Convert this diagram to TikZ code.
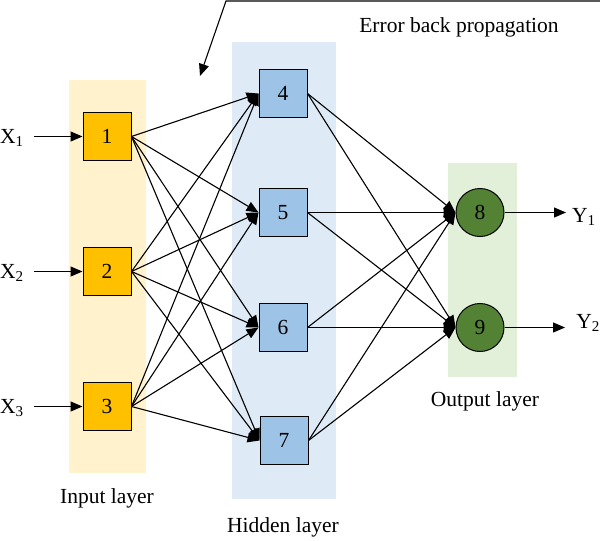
\documentclass[tikz,border=0pt]{standalone}
\usepackage{fontspec}
\setmainfont{Liberation Serif}
\usetikzlibrary{arrows.meta}
\definecolor{inband}{HTML}{FFF2CC}
\definecolor{hidband}{HTML}{DEEBF7}
\definecolor{outband}{HTML}{E2F0D9}
\definecolor{infill}{HTML}{FFC000}
\definecolor{hidfill}{HTML}{9DC3E6}
\definecolor{outfill}{HTML}{548235}
\begin{document}
\begin{tikzpicture}[x=1pt,y=-1pt,font=\fontsize{21.5}{25}\selectfont,
  inbox/.style={shape=rectangle,draw=black,fill=infill,line width=1pt,minimum size=48pt,inner sep=0pt},
  hidbox/.style={shape=rectangle,draw=black,fill=hidfill,line width=1pt,minimum size=48pt,inner sep=0pt},
  outdot/.style={shape=circle,draw=black,fill=outfill,line width=1pt,minimum size=48pt,inner sep=0pt},
  arr/.style={-{Triangle[length=12pt,width=10pt]},line width=1.1pt},
  lbl/.style={inner sep=0pt}]
\useasboundingbox (0,0) rectangle (600,541);

% layer bands
\fill[inband] (69,80) rectangle (146,473);
\fill[hidband] (232,42) rectangle (336,499);
\fill[outband] (448,163) rectangle (517,377);

\node[inbox](in1) at (107,136.5) {1};
\node[inbox](in2) at (107,271.5) {2};
\node[inbox](in3) at (107,406.5) {3};

\node[hidbox](hid4) at (283,93.5) {4};
\node[hidbox](hid5) at (283,212.5) {5};
\node[hidbox](hid6) at (283,327.5) {6};
\node[hidbox](hid7) at (284,440.5) {7};

\node[outdot](out8) at (480,212.5) {8};
\node[outdot](out9) at (480,327.5) {9};

\node[lbl,anchor=base west](x1) at (0,143) {X\textsubscript{1}};
\node[lbl,anchor=base west](x2) at (0,278) {X\textsubscript{2}};
\node[lbl,anchor=base west](x3) at (0,413) {X\textsubscript{3}};
\node[lbl,anchor=base west](y1) at (572,222) {Y\textsubscript{1}};
\node[lbl,anchor=base east](y2) at (600,328) {Y\textsubscript{2}};

\node(inlbl) at (107,498) {Input layer};
\node(hidlbl) at (283,527) {Hidden layer};
\node(outlbl) at (485,401) {Output layer};
\node(errlbl) at (459,27) {Error back propagation};

\coordinate (err0) at (600,1);
\coordinate (err1) at (226,1);
\coordinate (err2) at (200,76);
\draw[arr] (err0) -- (err1) -- (err2);

\path (x1.east |- in1.west) ++(10,0) edge[arr] (in1.west);
\path (x2.east |- in2.west) ++(10,0) edge[arr] (in2.west);
\path (x3.east |- in3.west) ++(10,0) edge[arr] (in3.west);

\path (in1.east) edge[arr] (hid4.west);
\path (in1.east) edge[arr] (hid5.west);
\path (in1.east) edge[arr] (hid6.west);
\path (in1.east) edge[arr] (hid7.west);
\path (in2.east) edge[arr] (hid4.west);
\path (in2.east) edge[arr] (hid5.west);
\path (in2.east) edge[arr] (hid6.west);
\path (in2.east) edge[arr] (hid7.west);
\path (in3.east) edge[arr] (hid4.west);
\path (in3.east) edge[arr] (hid5.west);
\path (in3.east) edge[arr] (hid6.west);
\path (in3.east) edge[arr] (hid7.west);

\path (hid4.east) edge[arr] (out8.west);
\path (hid4.east) edge[arr] (out9.west);
\path (hid5.east) edge[arr] (out8.west);
\path (hid5.east) edge[arr] (out9.west);
\path (hid6.east) edge[arr] (out8.west);
\path (hid6.east) edge[arr] (out9.west);
\path (hid7.east) edge[arr] (out8.west);
\path (hid7.east) edge[arr] (out9.west);

\path (out8.east) edge[arr] ([xshift=-6pt]out8.east -| y1.west);
\path (out9.east) edge[arr] ([xshift=-11pt]out9.east -| y2.west);
\end{tikzpicture}
\end{document}
